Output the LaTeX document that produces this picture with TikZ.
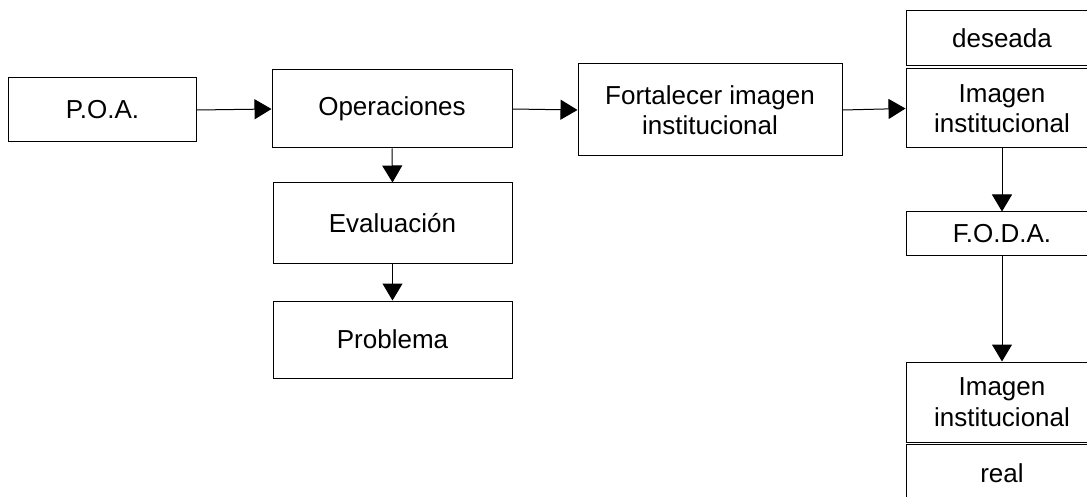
\documentclass[tikz,border=0pt]{standalone}
\usepackage{fontspec}
\setmainfont{Liberation Sans}
\usetikzlibrary{arrows.meta}
\begin{document}
\begin{tikzpicture}[x=1pt,y=-1pt,
  box/.style={draw=black,line width=1pt,align=center,inner sep=0pt,
    font=\fontsize{26}{30.5}\selectfont},
  conn/.style={line width=1pt,-{Triangle[length=17pt,width=20pt]}}]
\clip (0,0) rectangle (1087,497);
\fill[white] (0,0) rectangle (1087,497);
\node[box,minimum width=188pt,minimum height=64pt] (poa) at (102.5,110) {P.O.A.};
\node[box,minimum width=240pt,minimum height=78pt] (ops) at (392,109) {Operaciones};
\node[box,minimum width=264pt,minimum height=92pt] (fort) at (710,110) {Fortalecer imagen\\institucional};
\node[box,minimum width=239pt,minimum height=80pt] (eval) at (392.5,223) {Evaluación};
\node[box,minimum width=239pt,minimum height=77pt] (prob) at (392.5,339.5) {Problema};
\node[box,minimum width=192pt,minimum height=55pt] (des) at (1002,38.5) {deseada};
\node[box,minimum width=192pt,minimum height=79pt] (img1) at (1002,108.5) {Imagen\\institucional};
\node[box,minimum width=192pt,minimum height=43pt] (foda) at (1002,233.5) {F.O.D.A.};
\node[box,minimum width=192pt,minimum height=80pt] (img2) at (1002,402) {Imagen\\institucional};
\node[box,minimum width=192pt,minimum height=58pt] (real) at (1002,473) {real};
\draw[conn] (poa.east) -- (ops.west);
\draw[conn] (ops.east) -- (fort.west);
\draw[conn] (fort.east) -- (img1.west);
\draw[conn] (ops.south) -- (eval.north);
\draw[conn] (eval.south) -- (prob.north);
\draw[conn] (img1.south) -- (foda.north);
\draw[conn] (foda.south) -- (img2.north);
\end{tikzpicture}
\end{document}
